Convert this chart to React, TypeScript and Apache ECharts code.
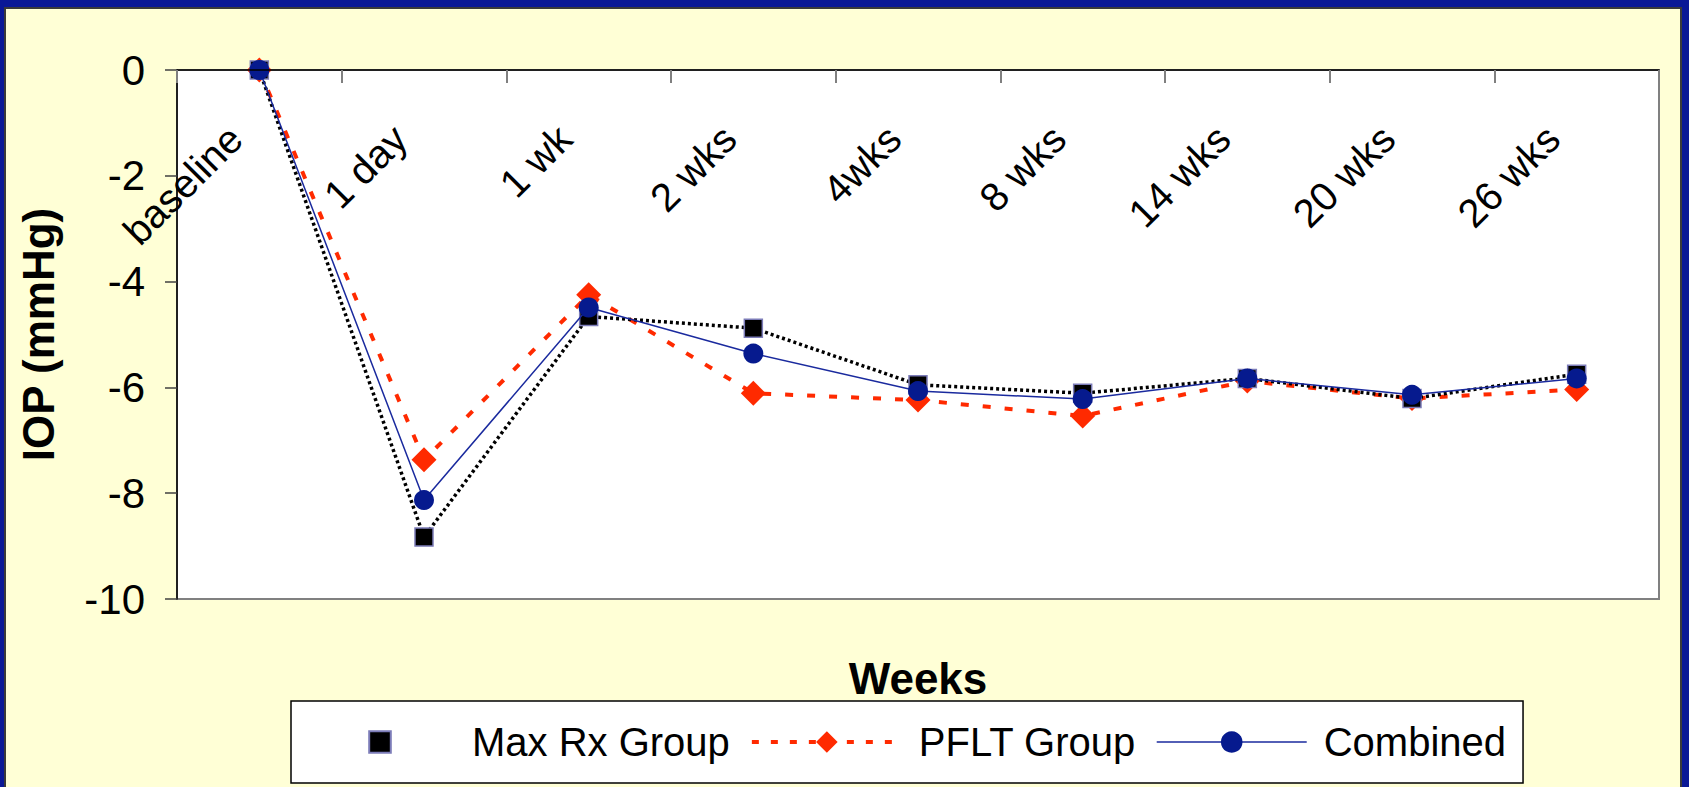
import React, { useEffect, useRef } from "react";
import * as echarts from "echarts";

const categories = ["baseline", "1 day", "1 wk", "2 wks", "4wks", "8 wks", "14 wks", "20 wks", "26 wks"];
const maxRx = [0, -8.83, -4.66, -4.88, -5.95, -6.11, -5.83, -6.21, -5.75];
const pflt = [0, -7.37, -4.25, -6.11, -6.24, -6.54, -5.88, -6.21, -6.04];
const combined = [0, -8.13, -4.49, -5.36, -6.07, -6.22, -5.83, -6.14, -5.83];

const FONT = "'Liberation Sans', Arial, Helvetica, sans-serif";

export default function App() {
  const ref = useRef<HTMLDivElement>(null);
  useEffect(() => {
    if (!ref.current) return;
    const chart = echarts.init(ref.current, undefined, { renderer: "svg" });
    chart.setOption({
      animation: false,
      backgroundColor: "#0a1896",
      textStyle: { fontFamily: FONT },
      graphic: {
        z: -100,
        elements: [
          {
            type: "rect",
            z: -100,
            silent: true,
            shape: { x: 5, y: 8, width: 1676, height: 900 },
            style: { fill: "#ffffd6", stroke: "#3a3a3a", lineWidth: 2 },
          },
        ],
      },
      grid: {
        left: 177,
        top: 70,
        width: 1482,
        height: 529,
        containLabel: false,
        outerBoundsMode: "none",
        show: true,
        backgroundColor: "#ffffff",
        borderColor: "#808080",
        borderWidth: 2,
        z: 1,
      },
      legend: {
        left: 291,
        top: 701,
        orient: "horizontal",
        padding: [21, 17, 21, 13],
        itemWidth: 150,
        itemHeight: 27,
        itemGap: 20,
        backgroundColor: "#ffffff",
        borderColor: "#000000",
        borderWidth: 1.5,
        borderRadius: 0,
        textStyle: { fontSize: 40, fontFamily: FONT, color: "#000", padding: [0, 0, 0, 12] },
        data: [
          { name: "Max Rx Group", lineStyle: { opacity: 0 } },
          { name: "PFLT Group", lineStyle: { width: 4, type: [7, 12], color: "#ff2a00" } },
          { name: "Combined", lineStyle: { width: 1.5, color: "#1a2a9e" } },
        ],
      },
      xAxis: [
        {
          type: "category",
          data: categories,
          position: "bottom",
          offset: -529,
          boundaryGap: true,
          axisLine: { show: true, onZero: false, lineStyle: { color: "#000", width: 1.5 } },
          axisTick: { show: true, length: 13, interval: 0, lineStyle: { color: "#808080", width: 2 } },
          axisLabel: {
            show: true,
            interval: 0,
            rotate: 45,
            margin: 38,
            align: "right",
            verticalAlign: "middle",
            padding: [0, 34, 0, 0],
            fontSize: 40,
            fontFamily: FONT,
            color: "#000",
          },
          splitLine: { show: false },
          z: 5,
        },
        {
          type: "category",
          data: categories,
          position: "bottom",
          axisLine: { show: false },
          axisTick: { show: false },
          axisLabel: { show: false },
          splitLine: { show: false },
          name: "Weeks",
          nameLocation: "middle",
          nameGap: 79,
          nameTextStyle: {
            fontSize: 44,
            fontWeight: "bold",
            fontFamily: FONT,
            color: "#000",
            verticalAlign: "middle",
          },
        },
      ],
      yAxis: {
        type: "value",
        min: -10,
        max: 0,
        interval: 2,
        axisLine: { show: true, lineStyle: { color: "#000", width: 1.5 } },
        axisTick: { show: true, length: 12, lineStyle: { color: "#404040", width: 1.5 } },
        axisLabel: { fontSize: 42, fontFamily: FONT, color: "#000", margin: 32 },
        splitLine: { show: false },
        name: "IOP (mmHg)",
        nameLocation: "middle",
        nameGap: 139,
        nameTextStyle: {
          fontSize: 44,
          fontWeight: "bold",
          fontFamily: FONT,
          color: "#000",
          verticalAlign: "middle",
        },
        z: 5,
      },
      series: [
        {
          name: "Max Rx Group",
          type: "line",
          data: maxRx,
          z: 3,
          clip: false,
          symbol: "rect",
          symbolSize: 18,
          itemStyle: { color: "#000000", borderColor: "#7c7cb8", borderWidth: 1.5 },
          lineStyle: { color: "#000000", width: 3.5, type: [3, 3] },
        },
        {
          name: "PFLT Group",
          type: "line",
          data: pflt,
          z: 2,
          clip: false,
          symbol: "diamond",
          symbolSize: 25,
          itemStyle: { color: "#ff2a00" },
          lineStyle: { color: "#ff2a00", width: 4, type: [8, 14] },
        },
        {
          name: "Combined",
          type: "line",
          data: combined,
          z: 4,
          clip: false,
          symbol: "circle",
          symbolSize: 20,
          itemStyle: { color: "#061a8e" },
          lineStyle: { color: "#1a2a9e", width: 1.5 },
        },
      ],
    });
    return () => chart.dispose();
  }, []);
  return (
    <div
      ref={ref}
      style={{ position: "absolute", left: 0, top: 0, width: 1689, height: 787 }}
    />
  );
}
